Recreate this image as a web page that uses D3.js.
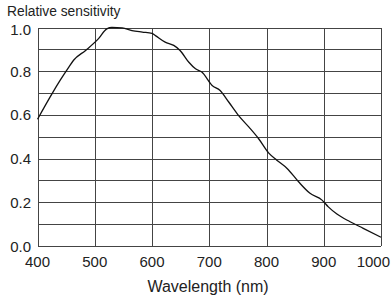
<!DOCTYPE html>
<html>
<head>
<meta charset="utf-8">
<script src="https://cdn.jsdelivr.net/npm/d3@7"></script>
<style>
  body { margin: 0; background: #fff; }
  text { font-family: "Liberation Sans", Arial, sans-serif; fill: #222; }
</style>
</head>
<body>
<div id="chart"></div>
<script>
"use strict"

// curve
const wavelength = [400, 426, 440, 455, 463, 484, 507, 521, 530, 548, 565, 583, 600, 606, 623, 638, 649, 664, 676, 687, 705, 719, 734, 751, 769, 786, 804, 818, 836, 856, 876, 897, 908, 923, 946, 969, 1000];
const sensitivity = [0.58, 0.70, 0.76, 0.82, 0.85, 0.895, 0.95, 0.994, 1.0, 0.998, 0.986, 0.979, 0.973, 0.963, 0.933, 0.918, 0.895, 0.842, 0.811, 0.796, 0.735, 0.712, 0.659, 0.598, 0.545, 0.492, 0.425, 0.393, 0.355, 0.294, 0.241, 0.21, 0.179, 0.146, 0.111, 0.081, 0.04];

const xTicks = [400, 500, 600, 700, 800, 900, 1000];
const yTicks = [0.0, 0.2, 0.4, 0.6, 0.8, 1.0];
const yGrid = d3.range(0, 11).map(d => d / 10);

const width = 392, height = 302;
const margin = { left: 37.5, right: 11, top: 27.5, bottom: 56 };

let svg = d3.select("#chart").append("svg")
  .attr("width", width)
  .attr("height", height);

let x = d3.scaleLinear()
  .domain([400, 1000])
  .range([margin.left, width - margin.right]);

let y = d3.scaleLinear()
  .domain([0, 1])
  .range([height - margin.bottom, margin.top]);

// grid
let grid = svg.append("g")
  .style("stroke", "#444")
  .style("stroke-width", 1)
  .style("shape-rendering", "crispEdges");

grid.selectAll(".h")
  .data(yGrid)
  .enter().append("line")
  .attr("x1", x(400)).attr("x2", x(1000))
  .attr("y1", d => Math.round(y(d)) + 0.5)
  .attr("y2", d => Math.round(y(d)) + 0.5);

grid.selectAll(".v")
  .data(xTicks)
  .enter().append("line")
  .attr("y1", y(0)).attr("y2", y(1))
  .attr("x1", d => Math.round(x(d)) + 0.5)
  .attr("x2", d => Math.round(x(d)) + 0.5);

// curve
let line = d3.line()
  .x((d, i) => x(wavelength[i]))
  .y(d => y(d))
  .curve(d3.curveMonotoneX);

svg.append("path")
  .datum(sensitivity)
  .attr("d", line)
  .style("fill", "none")
  .style("stroke", "#111")
  .style("stroke-width", 1.3);

// tick labels (last one is pulled in so it fits)
svg.selectAll(".xl")
  .data(xTicks)
  .enter().append("text")
  .attr("x", d => d === 1000 ? width - 2 : x(d))
  .attr("y", 267)
  .attr("text-anchor", d => d === 1000 ? "end" : "middle")
  .style("font-size", "15px")
  .text(d => d);

svg.selectAll(".yl")
  .data(yTicks)
  .enter().append("text")
  .attr("x", 31)
  .attr("y", d => Math.max(y(d) + 5.5, 35))
  .attr("text-anchor", "end")
  .style("font-size", "15px")
  .text(d => d.toFixed(1));

svg.append("text")
  .attr("x", 7)
  .attr("y", 16)
  .style("font-size", "13.8px")
  .text("Relative sensitivity");

svg.append("text")
  .attr("x", 208)
  .attr("y", 291.5)
  .attr("text-anchor", "middle")
  .style("font-size", "16px")
  .text("Wavelength (nm)");
</script>
</body>
</html>
